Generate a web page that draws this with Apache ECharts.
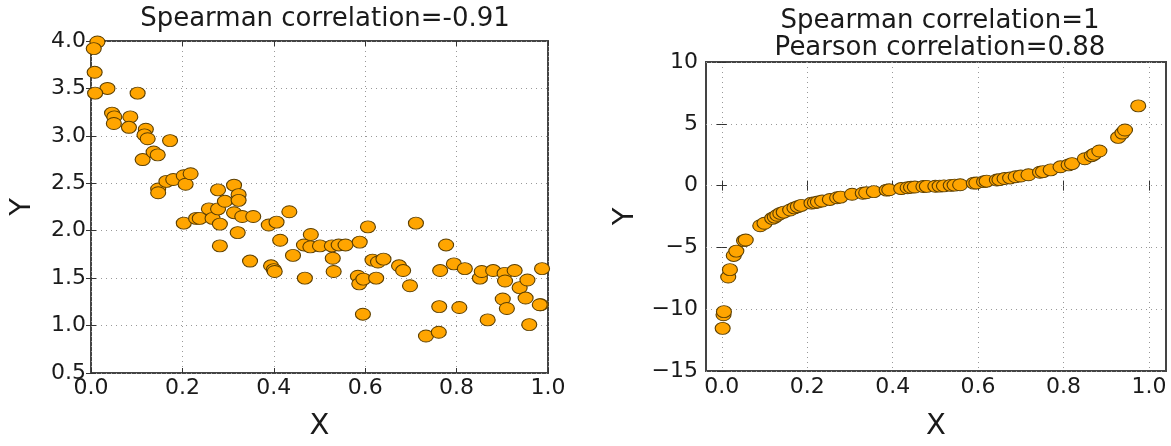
<!DOCTYPE html>
<html>
<head>
<meta charset="utf-8">
<script src="https://cdn.jsdelivr.net/npm/echarts@6/dist/echarts.min.js"></script>
<style>
  html, body { margin: 0; padding: 0; background: #fff; }
  #main { width: 1171px; height: 446px; }
</style>
</head>
<body>
<div id="main"></div>
<script>
// left panel: noisy decreasing relation
const leftX = [0.014, 0.006, 0.008, 0.036, 0.009, 0.102, 0.046, 0.051, 0.050, 0.086,
  0.083, 0.120, 0.117, 0.124, 0.173, 0.113, 0.137, 0.146, 0.147, 0.147,
  0.165, 0.180, 0.203, 0.207, 0.218, 0.203, 0.230, 0.238, 0.258, 0.266,
  0.278, 0.278, 0.282, 0.282, 0.293, 0.313, 0.323, 0.323, 0.313, 0.331,
  0.355, 0.321, 0.348, 0.389, 0.406, 0.414, 0.394, 0.400, 0.402, 0.434,
  0.442, 0.466, 0.481, 0.480, 0.468, 0.501, 0.527, 0.542, 0.557, 0.529,
  0.531, 0.588, 0.606, 0.584, 0.587, 0.596, 0.595, 0.616, 0.628, 0.640,
  0.624, 0.674, 0.683, 0.698, 0.711, 0.733, 0.761, 0.762, 0.764, 0.777,
  0.794, 0.806, 0.818, 0.851, 0.855, 0.868, 0.880, 0.901, 0.905, 0.906,
  0.910, 0.927, 0.938, 0.955, 0.951, 0.959, 0.984, 0.987, 0.982];
const leftY = [3.99, 3.92, 3.67, 3.50, 3.45, 3.45, 3.24, 3.20, 3.13, 3.20,
  3.09, 3.07, 3.01, 2.97, 2.95, 2.75, 2.83, 2.80, 2.44, 2.40,
  2.52, 2.54, 2.58, 2.49, 2.60, 2.08, 2.13, 2.13, 2.23, 2.13,
  2.23, 2.43, 2.07, 1.84, 2.31, 2.48, 2.38, 2.32, 2.19, 2.15,
  2.15, 1.98, 1.68, 2.06, 2.09, 1.90, 1.63, 1.59, 1.57, 2.20,
  1.74, 1.85, 1.96, 1.83, 1.50, 1.84, 1.84, 1.85, 1.85, 1.71,
  1.57, 1.88, 2.04, 1.52, 1.44, 1.49, 1.12, 1.69, 1.67, 1.70,
  1.50, 1.63, 1.58, 1.42, 2.08, 0.89, 0.93, 1.20, 1.58, 1.85,
  1.65, 1.19, 1.60, 1.50, 1.57, 1.06, 1.58, 1.28, 1.55, 1.47,
  1.18, 1.58, 1.40, 1.48, 1.29, 1.01, 1.22, 1.60, 1.22];

// right panel: monotone but strongly non-linear
const rightX = [0.002, 0.004, 0.005, 0.015, 0.019, 0.028, 0.034, 0.052, 0.056, 0.090,
  0.100, 0.118, 0.124, 0.130, 0.137, 0.145, 0.160, 0.170, 0.178, 0.186,
  0.210, 0.218, 0.225, 0.235, 0.253, 0.270, 0.278, 0.305, 0.330, 0.338,
  0.356, 0.386, 0.392, 0.420, 0.435, 0.443, 0.452, 0.472, 0.480, 0.500,
  0.510, 0.520, 0.536, 0.545, 0.558, 0.590, 0.596, 0.614, 0.620, 0.644,
  0.650, 0.662, 0.675, 0.688, 0.700, 0.718, 0.745, 0.752, 0.770, 0.793,
  0.812, 0.820, 0.850, 0.866, 0.872, 0.884, 0.928, 0.938, 0.944, 0.975];
const rightY = [-11.55, -10.45, -10.2, -7.4, -6.8, -5.65, -5.3, -4.45, -4.4, -3.25,
  -3.05, -2.65, -2.55, -2.4, -2.25, -2.15, -1.97, -1.8, -1.7, -1.6,
  -1.42, -1.38, -1.33, -1.25, -1.12, -0.98, -0.93, -0.7, -0.62, -0.58,
  -0.49, -0.37, -0.34, -0.24, -0.17, -0.13, -0.11, -0.07, -0.06, -0.05,
  -0.04, -0.02, 0.02, 0.04, 0.07, 0.2, 0.21, 0.32, 0.36, 0.45,
  0.48, 0.57, 0.62, 0.72, 0.78, 0.88, 1.08, 1.13, 1.27, 1.52,
  1.68, 1.78, 2.17, 2.42, 2.55, 2.8, 3.9, 4.25, 4.5, 6.45];

const rightXTicks = [0.0, 0.2, 0.4, 0.6, 0.8, 1.0];

const FONT = 'DejaVu Sans';
const TXT = '#1a1a1a';

function pairs(xs, ys) {
  return xs.map((x, i) => [x, ys[i]]);
}

function minusFmt(v) {
  return String(v).replace('-', '\u2212');
}

// common axis bits, matplotlib classic look
function baseAxis(grid, extra) {
  let ax = {
    gridIndex: grid,
    axisLine: { show: false },
    axisTick: { show: true, inside: true, length: 5, lineStyle: { color: '#333', width: 1 } },
    splitLine: { show: false },
    axisLabel: { show: false }
  };
  return Object.assign(ax, extra);
}

const gridLine = { show: true, lineStyle: { color: '#999', type: [1, 4], width: 1 } };
const label = { show: true, color: TXT, fontFamily: FONT, fontSize: 22 };
const nameStyle = { color: TXT, fontFamily: FONT, fontSize: 29 };
const dot = { color: '#ffa500', borderColor: '#5c3f00', borderWidth: 1, opacity: 1 };
const rTick = { show: true, inside: true, length: 5, customValues: rightXTicks, lineStyle: { color: '#333', width: 1 } };

const chart = echarts.init(document.getElementById('main'), null, { renderer: 'canvas' });

const option = {
  animation: false,
  backgroundColor: '#fff',
  title: [{
    text: 'Spearman correlation=-0.91',
    left: 320, top: 1, textAlign: 'center',
    textStyle: { color: TXT, fontFamily: FONT, fontSize: 26, fontWeight: 'normal' }
  }, {
    text: 'Spearman correlation=1\nPearson correlation=0.88',
    left: 935, top: 3, textAlign: 'center',
    textStyle: { color: TXT, fontFamily: FONT, fontSize: 26, fontWeight: 'normal', lineHeight: 27 }
  }],
  grid: [
    { left: 91, top: 41, width: 457, height: 355, show: true, borderColor: '#444', borderWidth: 2, backgroundColor: '#fff' },
    { left: 706, top: 62, width: 460, height: 327, show: true, borderColor: '#444', borderWidth: 2, backgroundColor: '#fff' }
  ],
  xAxis: [
    baseAxis(0, {
      type: 'value', min: 0, max: 1, interval: 0.2, position: 'bottom',
      splitLine: gridLine,
      axisLabel: Object.assign({}, label, { margin: 4, formatter: v => v.toFixed(1) }),
      name: 'X', nameLocation: 'middle', nameGap: 39, nameTextStyle: nameStyle
    }),
    baseAxis(0, { type: 'value', min: 0, max: 1, interval: 0.2, position: 'top' }),
    baseAxis(1, {
      type: 'value', min: -0.037, max: 1.04, position: 'bottom',
      axisTick: rTick,
      splitLine: gridLine,
      axisLabel: Object.assign({}, label, { margin: 5, customValues: rightXTicks, formatter: v => v.toFixed(1) }),
      name: 'X', nameLocation: 'middle', nameGap: 41, nameTextStyle: nameStyle
    }),
    baseAxis(1, { type: 'value', min: -0.037, max: 1.04, position: 'top', axisTick: rTick })
  ],
  yAxis: [
    baseAxis(0, {
      type: 'value', min: 0.5, max: 4.0, interval: 0.5, position: 'left',
      splitLine: gridLine,
      axisLabel: Object.assign({}, label, { margin: 5, formatter: v => v.toFixed(1) }),
      name: 'Y', nameLocation: 'middle', nameGap: 54, nameTextStyle: nameStyle
    }),
    baseAxis(0, { type: 'value', min: 0.5, max: 4.0, interval: 0.5, position: 'right' }),
    baseAxis(1, {
      type: 'value', min: -15, max: 10, interval: 5, position: 'left',
      splitLine: gridLine,
      axisLabel: Object.assign({}, label, { margin: 8, formatter: minusFmt }),
      name: 'Y', nameLocation: 'middle', nameGap: 66, nameTextStyle: nameStyle
    }),
    baseAxis(1, { type: 'value', min: -15, max: 10, interval: 5, position: 'right' })
  ],
  series: [{
    type: 'scatter',
    xAxisIndex: 0, yAxisIndex: 0,
    data: pairs(leftX, leftY),
    symbol: 'circle',
    symbolSize: [15, 12],
    itemStyle: dot
  }, {
    type: 'scatter',
    xAxisIndex: 2, yAxisIndex: 2,
    data: pairs(rightX, rightY),
    symbol: 'circle',
    symbolSize: [15, 12],
    itemStyle: dot
  }]
};

chart.setOption(option);
</script>
</body>
</html>
